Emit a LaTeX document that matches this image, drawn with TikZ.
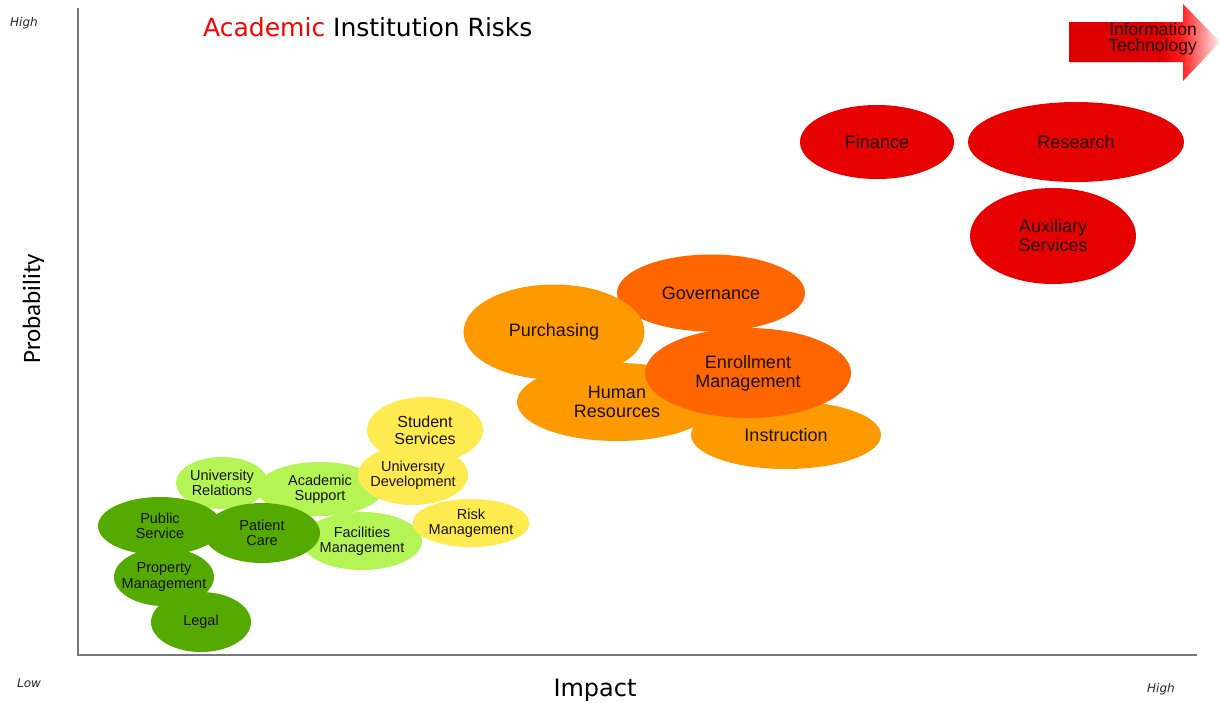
\documentclass[tikz,border=0pt]{standalone}
\usepackage{fontspec}
\setmainfont{Liberation Sans}
\newfontfamily\dvs{DejaVu Sans}
\newfontfamily\carl{Carlito}
\usetikzlibrary{shapes.geometric}
\definecolor{rred}{RGB}{230,0,0}
\definecolor{rorange}{RGB}{255,102,0}
\definecolor{rlorange}{RGB}{255,153,0}
\definecolor{ryellow}{RGB}{255,235,80}
\definecolor{rlgreen}{RGB}{180,245,85}
\definecolor{rdgreen}{RGB}{85,170,0}
\definecolor{axisgray}{RGB}{120,120,120}
\definecolor{txt}{RGB}{25,18,12}
\definecolor{itred}{RGB}{222,0,0}
\definecolor{itbright}{RGB}{255,25,25}
\definecolor{itpale}{RGB}{255,238,238}
\pgfdeclarehorizontalshading{itshade}{100bp}{color(0bp)=(itred); color(55bp)=(itred); color(62bp)=(itbright); color(75bp)=(itpale); color(100bp)=(itpale)}
\tikzset{
  blob/.style={ellipse, inner sep=0pt, outer sep=0pt, draw=none},
  bigtxt/.style={font=\fontsize{18}{19}\selectfont, text=txt, align=center, inner sep=0pt},
  smalltxt/.style={font=\fontsize{14.5}{15.5}\selectfont, text=txt, align=center, inner sep=0pt},
  axisline/.style={draw=axisgray, line width=1.4pt},
  endlabel/.style={font=\dvs\itshape\fontsize{12}{14}\selectfont, text=black!85, inner sep=0pt}
}
\begin{document}
\begin{tikzpicture}[x=1pt,y=-1pt]
\useasboundingbox (0,0) rectangle (1220,702);
% axes
\coordinate (top) at (78,8);
\coordinate (origin) at (78,655);
\coordinate (right) at (1197,655);
\draw[axisline] (top) -- (origin) -- (right);
% title and axis labels
\node[anchor=base west, inner sep=0pt, font=\dvs\fontsize{25}{27}\selectfont] (title) at (203,36) {\textcolor{red}{Academic} Institution Risks};
\node[anchor=base, rotate=90, inner sep=0pt, font=\carl\fontsize{25}{27}\selectfont] (prob) at (40,309) {Probability};
\node[anchor=base, inner sep=0pt, font=\dvs\fontsize{24}{26}\selectfont] (impact) at (595,696) {Impact};
\node[endlabel, anchor=base west] (hightop) at (10,26) {High};
\node[endlabel, anchor=base west] (low) at (17,687) {Low};
\node[endlabel, anchor=base west] (highright) at (1147,692) {High};
% IT arrow
\shade[shading=itshade] (1069,22) -- (1183,22) -- (1183,4) -- (1220,42) -- (1183,81) -- (1183,62) -- (1069,62) -- cycle;
\node[anchor=east, align=right, inner sep=0pt, font=\fontsize{17.5}{15.5}\selectfont, text=txt] (it) at (1197,39) {Information\\Technology};
% red
\node[blob, fill=rred, minimum width=154, minimum height=74, label={[bigtxt]center:Finance}] (finance) at (877,142) {};
\node[blob, fill=rred, minimum width=216, minimum height=80, label={[bigtxt]center:Research}] (research) at (1076,142) {};
\node[blob, fill=rred, minimum width=166, minimum height=96, label={[bigtxt]center:{Auxiliary\\Services}}] (aux) at (1053,236) {};
% orange
\node[blob, fill=rorange, minimum width=188, minimum height=77, label={[bigtxt]center:Governance}] (gov) at (711,293) {};
\node[blob, fill=rlorange, minimum width=181, minimum height=95, label={[bigtxt]center:Purchasing}] (purch) at (554,332) {};
\node[blob, fill=rlorange, minimum width=200, minimum height=78, label={[bigtxt]center:{Human\\Resources}}] (hr) at (617,402) {};
\node[blob, fill=rlorange, minimum width=190, minimum height=68, label={[bigtxt]center:Instruction}] (instr) at (786,435) {};
\node[blob, fill=rorange, minimum width=206, minimum height=90, label={[bigtxt]center:{Enrollment\\Management}}] (enroll) at (748,373) {};
% light green
\node[blob, fill=rlgreen, minimum width=92, minimum height=52, label={[smalltxt]center:{University\\Relations}}] (urel) at (222,483) {};
\node[blob, fill=rlgreen, minimum width=126, minimum height=54, label={[smalltxt]center:{Academic\\Support}}] (acad) at (320,489) {};
\node[blob, fill=rlgreen, minimum width=120, minimum height=58, label={[smalltxt]center:{Facilities\\Management}}] (fac) at (362,541) {};
% yellow
\node[blob, fill=ryellow, minimum width=110, minimum height=60, label={[smalltxt]center:{University\\Development}}] (udev) at (413,475) {};
\node[blob, fill=ryellow, minimum width=116, minimum height=66, label={[bigtxt, font=\fontsize{16}{17}\selectfont]center:{Student\\Services}}] (stud) at (425,430) {};
\node[blob, fill=ryellow, minimum width=117, minimum height=48, label={[smalltxt]center:{Risk\\Management}}] (risk) at (471,523) {};
% dark green
\node[blob, fill=rdgreen, minimum width=124, minimum height=58, label={[smalltxt]center:{Public\\Service}}] (pub) at (160,526) {};
\node[blob, fill=rdgreen, minimum width=116, minimum height=60, label={[smalltxt]center:{Patient\\Care}}] (pat) at (262,533) {};
\node[blob, fill=rdgreen, minimum width=100, minimum height=58, label={[smalltxt]center:{Property\\Management}}] (prop) at (164,577) {};
\node[blob, fill=rdgreen, minimum width=100, minimum height=60, label={[smalltxt]center:Legal}] (legal) at (201,622) {};
\end{tikzpicture}
\end{document}
